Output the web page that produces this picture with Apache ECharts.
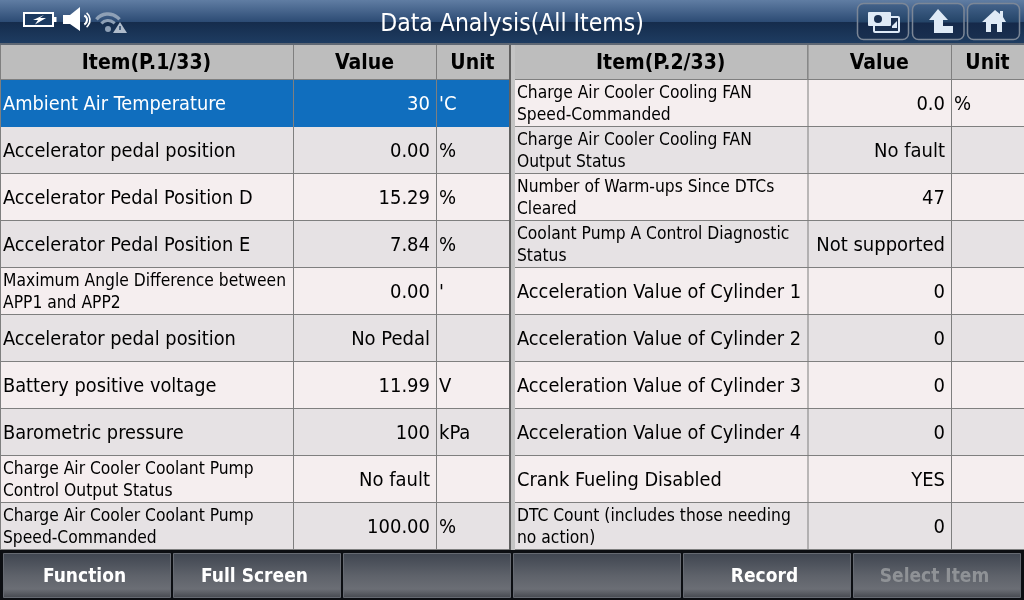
<!DOCTYPE html>
<html><head><meta charset="utf-8">
<style>html,body{margin:0;padding:0;background:#000}#c{width:1024px;height:600px}</style>
<script src="https://cdn.jsdelivr.net/npm/echarts@6/dist/echarts.min.js"></script>
</head><body><div id="c"></div>
<script>
const title = 'Data Analysis(All Items)';
const headersLeft = ['Item(P.1/33)', 'Value', 'Unit'];
const headersRight = ['Item(P.2/33)', 'Value', 'Unit'];
const itemsLeft = ['Ambient Air Temperature','Accelerator pedal position','Accelerator Pedal Position D','Accelerator Pedal Position E','Maximum Angle Difference between\nAPP1 and APP2','Accelerator pedal position','Battery positive voltage','Barometric pressure','Charge Air Cooler Coolant Pump\nControl Output Status','Charge Air Cooler Coolant Pump\nSpeed-Commanded'];
const valuesLeft = ['30','0.00','15.29','7.84','0.00','No Pedal','11.99','100','No fault','100.00'];
const unitsLeft = ["'C",'%','%','%',"'",'','V','kPa','','%'];
const itemsRight = ['Charge Air Cooler Cooling FAN\nSpeed-Commanded','Charge Air Cooler Cooling FAN\nOutput Status','Number of Warm-ups Since DTCs\nCleared','Coolant Pump A Control Diagnostic\nStatus','Acceleration Value of Cylinder 1','Acceleration Value of Cylinder 2','Acceleration Value of Cylinder 3','Acceleration Value of Cylinder 4','Crank Fueling Disabled','DTC Count (includes those needing\nno action)'];
const valuesRight = ['0.0','No fault','47','Not supported','0','0','0','0','YES','0'];
const unitsRight = ['%','','','','','','','','',''];
const buttons = ['Function','Full Screen','','','Record','Select Item'];
const disabledButton = 'Select Item';
const selectedRow = 0;

const FONT = '"DejaVu Sans Condensed","DejaVu Sans"';
const ROW0 = 80, ROWH = 47;
const LEFT = [1, 293, 436, 509], RIGHT = [515, 807.5, 951, 1024];
const LINE = '#7f7f7f';

const rows = [];
itemsLeft.forEach((t,i)=>rows.push({side:0,row:i,item:t,value:valuesLeft[i],unit:unitsLeft[i]}));
itemsRight.forEach((t,i)=>rows.push({side:1,row:i,item:t,value:valuesRight[i],unit:unitsRight[i]}));

function renderRow(params, api){
  const d = rows[params.dataIndex];
  const cols = d.side ? RIGHT : LEFT;
  const top = api.coord([0, ROW0 + ROWH*d.row])[1];
  const bot = api.coord([0, ROW0 + ROWH*(d.row+1)])[1];
  const x = cols.map(c=>api.coord([c,0])[0]);
  const sel = d.side===0 && d.row===selectedRow;
  const bg = sel ? '#106EBE' : (d.row%2 ? '#E6E2E4' : '#F5EEEF');
  const fg = sel ? '#fff' : '#000';
  const cy = (top+bot)/2 + 1.5;
  const two = d.item.includes('\n');
  const ch = [
    {type:'rect',shape:{x:x[0],y:top,width:x[3]-x[0],height:bot-top},style:{fill:bg}},
    {type:'rect',shape:{x:x[0],y:bot-1,width:x[3]-x[0],height:1},style:{fill:sel?bg:LINE}},
    {type:'rect',shape:{x:x[1],y:top,width:1,height:bot-top},style:{fill:LINE}},
    {type:'rect',shape:{x:x[2],y:top,width:1,height:bot-top},style:{fill:LINE}},
    {type:'text',style:{x:x[0]+2,y:cy-0.2,text:d.item,fill:fg,align:'left',verticalAlign:'middle',
      font:(two?'17.3px ':'19.8px ')+FONT,lineHeight:22}},
    {type:'text',style:{x:x[2]-6,y:cy,text:d.value,fill:fg,align:'right',verticalAlign:'middle',font:'20px '+FONT}},
    {type:'text',style:{x:x[2]+3,y:cy,text:d.unit,fill:fg,align:'left',verticalAlign:'middle',font:'20px '+FONT}}
  ];
  return {type:'group',children:ch};
}

const hdr = [];
headersLeft.forEach((t,i)=>hdr.push({t,c:LEFT,i}));
headersRight.forEach((t,i)=>hdr.push({t,c:RIGHT,i}));

function renderHeader(params, api){
  const h = hdr[params.dataIndex];
  const xa = api.coord([h.c[h.i],0])[0], xb = api.coord([h.c[h.i+1],0])[0];
  return {type:'group',children:[
    {type:'rect',shape:{x:xa,y:45,width:xb-xa,height:35},style:{fill:'#BDBDBD'}},
    {type:'rect',shape:{x:xa,y:79,width:xb-xa,height:1},style:{fill:LINE}},
    {type:'rect',shape:{x:xa,y:45,width:h.i>0?1:0,height:35},style:{fill:LINE}},
    {type:'text',style:{x:(xa+xb)/2 - (h.i===0?0.5:0),y:64,text:h.t,fill:'#000',align:'center',verticalAlign:'middle',font:'bold 21px '+FONT}}
  ]};
}

function renderButton(params, api){
  const i = params.dataIndex, t = buttons[i];
  const xa = api.coord([3+170*i,0])[0];
  const w = 167;
  return {type:'group',children:[
    {type:'rect',shape:{x:xa+.5,y:553.5,width:w,height:44},style:{fill:{type:'linear',x:0,y:0,x2:0,y2:1,colorStops:[
      {offset:0,color:'#3f4550'},{offset:.5,color:'#5e626a'},{offset:.8,color:'#6b6e75'},{offset:1,color:'#45484e'}]},stroke:'#666a72',lineWidth:1}},
    {type:'text',style:{x:xa+w/2-2,y:577,text:t,fill:t===disabledButton?'#8f9296':'#fff',align:'center',verticalAlign:'middle',font:'bold 19px '+FONT}}
  ]};
}

const chromeBack = [
  {type:'rect',z:-1,shape:{x:0,y:0,width:1024,height:600},style:{fill:'#0c0e12'}},
  {type:'rect',z:-1,shape:{x:0,y:0,width:1024,height:22},style:{fill:{type:'linear',x:0,y:0,x2:0,y2:1,colorStops:[{offset:0,color:'#607da3'},{offset:1,color:'#2c4b74'}]}}},
  {type:'rect',z:-1,shape:{x:0,y:22,width:1024,height:21},style:{fill:{type:'linear',x:0,y:0,x2:0,y2:1,colorStops:[{offset:0,color:'#152c4c'},{offset:1,color:'#1e3c61'}]}}},
  {type:'rect',z:-1,shape:{x:0,y:43,width:1024,height:2},style:{fill:'#5f6874'}},
  {type:'rect',z:-1,shape:{x:0,y:45,width:1,height:505},style:{fill:LINE}},
  {type:'rect',z:-1,shape:{x:509,y:45,width:2,height:505},style:{fill:'#606060'}},
  {type:'rect',z:-1,shape:{x:511,y:45,width:4,height:505},style:{fill:'#c4c4c4'}}
];
function iconBtn(x,w){return {type:'rect',z:5,shape:{x,y:3.5,width:w,height:36,r:6},style:{fill:{type:'linear',x:0,y:0,x2:0,y2:1,colorStops:[{offset:0,color:'#45648c'},{offset:.5,color:'#254569'},{offset:.55,color:'#15294a'},{offset:1,color:'#1a3050'}]},stroke:'#7c8797',lineWidth:1.5}};}
const ICON='#dfeaf6', WIFI='#8ea0b6';
const icons = [
  {type:'text',z:6,style:{x:512,y:24.5,text:title,fill:'#fff',align:'center',verticalAlign:'middle',font:'24.5px '+FONT}},
  {type:'rect',z:6,shape:{x:24,y:13,width:29,height:13},style:{fill:'#1c3a60',stroke:'#fff',lineWidth:2}},
  {type:'rect',z:6,shape:{x:54,y:17,width:2.5,height:5},style:{fill:'#fff'}},
  {type:'polygon',z:6,shape:{points:[[44,15],[33,20],[38,20],[35,24.5],[46,18],[40,18]]},style:{fill:'#fff'}},
  {type:'polygon',z:6,shape:{points:[[63,15],[70,15],[80,7],[80,31],[70,24],[63,24]]},style:{fill:'#fff'}},
  {type:'arc',z:6,shape:{cx:82,cy:20,r:5,startAngle:-1.1,endAngle:1.1},style:{stroke:'#fff',fill:'none',lineWidth:2.2}},
  {type:'arc',z:6,shape:{cx:81,cy:20,r:9,startAngle:-0.9,endAngle:0.9},style:{stroke:'#fff',fill:'none',lineWidth:1.6}},
  {type:'circle',z:6,shape:{cx:108,cy:29,r:3},style:{fill:WIFI}},
  {type:'arc',z:6,shape:{cx:108,cy:29,r:8.5,startAngle:-2.45,endAngle:-0.7},style:{stroke:WIFI,fill:'none',lineWidth:3}},
  {type:'arc',z:6,shape:{cx:108,cy:29,r:15,startAngle:-2.45,endAngle:-0.7},style:{stroke:WIFI,fill:'none',lineWidth:3.4}},
  {type:'polygon',z:6,shape:{points:[[120,22],[127,33],[113,33]]},style:{fill:'#b0bccb'}},
  {type:'rect',z:7,shape:{x:119.3,y:26,width:1.4,height:4},style:{fill:'#1c3a60'}},
  iconBtn(857.5,51),iconBtn(912.5,51.5),iconBtn(967.5,52),
  {type:'rect',z:6,shape:{x:874,y:17,width:25,height:15,r:1},style:{fill:'#1a3050',stroke:ICON,lineWidth:2}},
  {type:'rect',z:6,shape:{x:868,y:12,width:23,height:14,r:1},style:{fill:ICON}},
  {type:'circle',z:6,shape:{cx:878,cy:19,r:4},style:{fill:'#1a3050'}},
  {type:'polygon',z:6,shape:{points:[[892,26],[897,21],[897,28],[892,28]]},style:{fill:ICON}},
  {type:'polygon',z:6,shape:{points:[[929,20],[938,9],[948,20],[943,20],[943,26],[953,26],[953,33],[934,33],[934,20]]},style:{fill:ICON}},
  {type:'polygon',z:6,shape:{points:[[982,22],[995,10],[1000,14],[1000,11],[1003,11],[1003,17],[1006,22],[1002,22],[1002,32],[997,32],[997,24],[991,24],[991,32],[986,32],[986,22]]},style:{fill:ICON}}
];

const chart = echarts.init(document.getElementById('c'), null, {renderer:'canvas',width:1024,height:600});
chart.setOption({
  animation:false,
  backgroundColor:'#0c0e12',
  grid:{left:0,right:0,top:0,bottom:0,containLabel:false},
  xAxis:{type:'value',min:0,max:1024,show:false},
  yAxis:{type:'value',min:0,max:600,inverse:true,show:false},
  graphic:chromeBack.concat(icons),
  series:[
    {type:'custom',coordinateSystem:'cartesian2d',clip:false,silent:true,renderItem:renderRow,data:rows.map((r,i)=>[i]),z:2},
    {type:'custom',coordinateSystem:'cartesian2d',clip:false,silent:true,renderItem:renderHeader,data:hdr.map((r,i)=>[i]),z:2},
    {type:'custom',coordinateSystem:'cartesian2d',clip:false,silent:true,renderItem:renderButton,data:buttons.map((r,i)=>[i]),z:2}
  ]
});
</script></body></html>
